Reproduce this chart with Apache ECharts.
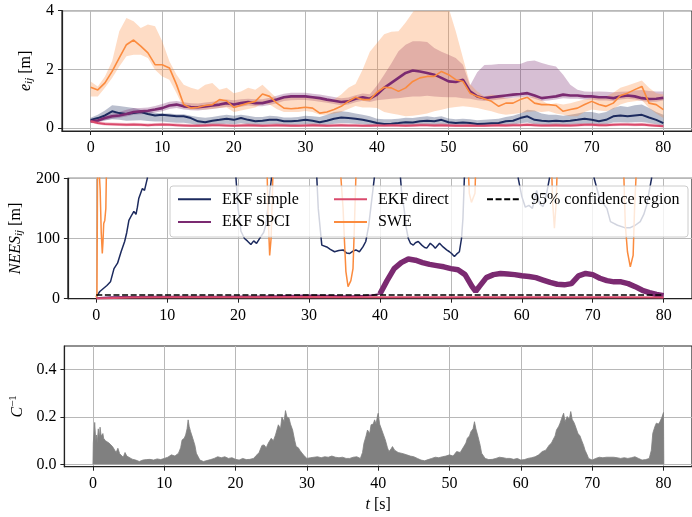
<!DOCTYPE html>
<html>
<head>
<meta charset="utf-8">
<script src="https://cdn.jsdelivr.net/npm/echarts@6/dist/echarts.min.js"></script>
<style>
  html, body { margin: 0; padding: 0; background: #ffffff; }
  #chart { width: 692px; height: 517px; }
</style>
</head>
<body>
<div id="chart"></div>
<script>
// ---------- sample times for the position-error panel [s] ----------
const errT = [0,1,2,3,4,5,6,7,8,9,10,11,12,13,14,15,16,17,18,19,20,21,22,23,24,25,26,27,28,29,30,
  31,32,33,34,35,36,37,38,39,40,41,42,43,44,45,46,47,48,49,50,51,52,53,54,55,56,57,58,59,60,
  61,62,63,64,65,66,67,68,69,70,71,72,73,74,75,76,77,78,79,80];

// ---------- e_ij [m]: mean error and min/max envelope per estimator ----------
const simpleErr = [0.28,0.34,0.43,0.57,0.51,0.48,0.51,0.55,0.48,0.43,0.45,0.43,0.40,0.40,0.34,0.23,0.20,0.25,0.28,0.32,
  0.28,0.34,0.28,0.23,0.25,0.28,0.28,0.23,0.23,0.25,0.28,0.25,0.20,0.25,0.32,0.36,0.34,0.32,0.28,0.23,
  0.17,0.14,0.15,0.17,0.20,0.19,0.23,0.25,0.23,0.28,0.20,0.17,0.19,0.17,0.14,0.15,0.16,0.17,0.23,0.25,
  0.34,0.40,0.28,0.25,0.23,0.25,0.23,0.25,0.28,0.32,0.28,0.23,0.28,0.40,0.43,0.40,0.43,0.45,0.36,0.28,0.17];
const simpleHi = [0.35,0.45,0.60,0.78,0.75,0.72,0.68,0.62,0.58,0.52,0.50,0.50,0.47,0.47,0.42,0.38,0.35,0.38,0.42,0.45,
  0.42,0.45,0.42,0.38,0.38,0.42,0.40,0.36,0.36,0.38,0.42,0.40,0.38,0.45,0.55,0.57,0.55,0.50,0.45,0.40,
  0.32,0.30,0.30,0.32,0.35,0.34,0.38,0.40,0.37,0.40,0.33,0.30,0.32,0.30,0.27,0.28,0.30,0.32,0.38,0.42,
  0.50,0.62,0.60,0.50,0.45,0.45,0.42,0.45,0.50,0.55,0.55,0.50,0.55,0.68,0.75,0.72,0.78,0.80,0.68,0.55,0.45];
const simpleLo = [0.20,0.22,0.26,0.30,0.28,0.25,0.26,0.27,0.24,0.22,0.22,0.20,0.18,0.18,0.15,0.10,0.09,0.11,0.13,0.15,
  0.13,0.16,0.13,0.10,0.11,0.13,0.13,0.10,0.10,0.11,0.13,0.11,0.09,0.11,0.15,0.17,0.16,0.15,0.13,0.10,
  0.07,0.06,0.06,0.07,0.09,0.08,0.10,0.11,0.10,0.13,0.09,0.07,0.08,0.07,0.06,0.06,0.07,0.07,0.10,0.11,
  0.16,0.19,0.13,0.11,0.10,0.11,0.10,0.11,0.13,0.15,0.13,0.10,0.13,0.19,0.20,0.19,0.20,0.21,0.17,0.13,0.07];

const spciErr = [0.23,0.26,0.34,0.40,0.43,0.48,0.55,0.57,0.59,0.63,0.68,0.77,0.80,0.74,0.72,0.71,0.74,0.77,0.80,0.85,
  0.80,0.85,0.89,0.85,0.85,0.91,0.97,1.05,1.08,1.08,1.08,1.05,1.02,0.97,0.93,0.89,0.91,1.00,1.05,1.00,
  1.14,1.37,1.54,1.71,1.88,1.96,1.93,1.88,1.82,1.71,1.59,1.57,1.65,1.25,1.08,1.02,1.05,1.08,1.11,1.14,
  1.16,1.19,1.11,1.02,1.05,1.08,1.14,1.11,1.11,1.08,1.08,1.05,1.05,1.02,1.08,1.11,1.08,1.02,0.99,1.00,1.03];
const spciHi = [0.30,0.33,0.42,0.50,0.55,0.62,0.68,0.68,0.70,0.75,0.82,0.90,0.92,0.88,0.85,0.84,0.87,0.90,0.93,0.97,
  0.95,0.98,1.00,0.98,0.98,1.03,1.10,1.17,1.20,1.20,1.20,1.17,1.14,1.10,1.06,1.02,1.04,1.12,1.18,1.15,
  1.45,1.82,2.20,2.62,2.84,2.96,2.96,2.93,2.73,2.60,2.50,2.39,2.16,1.45,1.90,2.15,2.16,2.18,2.18,2.18,
  2.18,2.28,2.30,2.22,2.15,2.10,1.82,1.48,1.31,1.25,1.24,1.25,1.24,1.22,1.24,1.25,1.28,1.30,1.26,1.25,1.25];
const spciLo = [0.18,0.20,0.27,0.32,0.35,0.39,0.45,0.47,0.49,0.53,0.57,0.65,0.68,0.63,0.61,0.60,0.62,0.65,0.68,0.73,
  0.69,0.73,0.77,0.74,0.74,0.79,0.85,0.92,0.95,0.96,0.96,0.93,0.90,0.86,0.82,0.78,0.80,0.88,0.93,0.89,
  0.95,0.97,1.00,1.02,1.05,1.08,1.08,1.10,1.08,1.06,1.05,1.05,1.02,1.00,0.95,0.92,0.94,0.97,1.00,1.03,
  1.05,1.08,1.00,0.92,0.94,0.97,1.02,1.00,1.00,0.97,0.97,0.94,0.94,0.92,0.97,1.00,0.97,0.92,0.89,0.90,0.94];

const directErr = [0.23,0.17,0.14,0.13,0.12,0.11,0.12,0.11,0.10,0.11,0.12,0.11,0.10,0.09,0.08,0.08,0.09,0.10,0.10,0.09,
  0.08,0.09,0.10,0.09,0.08,0.09,0.10,0.09,0.08,0.08,0.09,0.10,0.09,0.08,0.09,0.10,0.09,0.09,0.08,0.08,
  0.09,0.09,0.10,0.09,0.08,0.09,0.10,0.10,0.09,0.10,0.09,0.08,0.08,0.09,0.08,0.08,0.09,0.10,0.09,0.10,
  0.10,0.11,0.10,0.09,0.09,0.10,0.09,0.09,0.10,0.11,0.11,0.10,0.10,0.11,0.12,0.12,0.11,0.12,0.10,0.08,0.06];
const directHi = [0.28,0.24,0.21,0.19,0.18,0.17,0.18,0.17,0.16,0.17,0.18,0.17,0.16,0.15,0.14,0.14,0.15,0.16,0.16,0.15,
  0.14,0.15,0.16,0.15,0.14,0.15,0.16,0.15,0.14,0.14,0.15,0.16,0.15,0.14,0.15,0.16,0.15,0.15,0.14,0.14,
  0.15,0.15,0.16,0.15,0.14,0.15,0.16,0.16,0.15,0.16,0.15,0.14,0.14,0.15,0.14,0.14,0.15,0.16,0.15,0.16,
  0.16,0.17,0.16,0.15,0.15,0.16,0.15,0.15,0.16,0.17,0.17,0.16,0.16,0.17,0.18,0.18,0.17,0.18,0.16,0.14,0.11];
const directLo = [0.18,0.12,0.09,0.08,0.07,0.06,0.07,0.06,0.05,0.06,0.07,0.06,0.05,0.04,0.04,0.04,0.04,0.05,0.05,0.04,
  0.04,0.04,0.05,0.04,0.04,0.04,0.05,0.04,0.04,0.04,0.04,0.05,0.04,0.04,0.04,0.05,0.04,0.04,0.04,0.04,
  0.04,0.04,0.05,0.04,0.04,0.04,0.05,0.05,0.04,0.05,0.04,0.04,0.04,0.04,0.04,0.04,0.04,0.05,0.04,0.05,
  0.05,0.06,0.05,0.04,0.04,0.05,0.04,0.04,0.05,0.06,0.06,0.05,0.05,0.06,0.07,0.07,0.06,0.07,0.05,0.04,0.03];

const sweErr = [1.39,1.30,1.54,1.93,2.39,2.84,3.00,2.79,2.56,2.16,2.16,2.05,1.48,0.80,0.68,0.71,0.77,0.80,0.97,0.93,
  0.70,0.78,0.85,0.91,1.16,1.08,0.85,0.68,0.66,0.68,0.71,0.68,0.51,0.55,0.63,0.74,0.91,1.05,0.97,0.97,
  1.22,1.39,1.37,1.25,1.37,1.59,1.71,1.76,1.76,1.93,1.82,1.65,1.59,1.19,1.08,1.00,0.91,0.74,0.85,0.85,
  0.97,1.05,0.85,0.80,0.80,0.77,0.57,0.63,0.68,0.80,0.91,0.80,0.74,0.85,1.11,1.19,1.31,1.42,0.85,0.80,0.63];
const sweHi = [1.59,1.42,1.76,2.28,3.30,3.75,3.64,3.41,3.53,3.47,2.96,2.28,1.82,1.48,1.37,1.31,1.48,1.54,1.31,1.37,
  1.19,1.25,1.37,1.31,1.48,1.25,1.02,1.02,1.08,1.11,1.08,1.05,0.97,0.95,0.97,1.14,1.37,1.50,2.00,2.60,
  2.90,3.20,3.28,3.30,3.60,3.95,4.30,4.30,4.30,4.30,4.10,3.30,2.40,1.50,1.25,1.08,1.14,1.10,1.02,1.02,
  1.05,1.05,1.08,0.95,0.80,0.85,0.80,0.85,0.91,0.97,1.02,1.05,1.08,1.20,1.37,1.45,1.54,1.62,1.37,1.19,1.14];
const sweLo = [1.08,1.08,1.37,1.71,2.10,2.45,2.50,2.50,2.39,1.99,1.76,1.65,1.19,0.68,0.63,0.63,0.63,0.66,0.68,0.70,
  0.55,0.60,0.65,0.70,0.85,0.80,0.65,0.55,0.55,0.55,0.58,0.55,0.45,0.45,0.50,0.55,0.65,0.75,0.70,0.70,
  0.68,0.55,0.50,0.45,0.40,0.42,0.45,0.50,0.57,0.62,0.68,0.72,0.74,0.72,0.68,0.62,0.57,0.50,0.45,0.48,
  0.51,0.55,0.57,0.55,0.57,0.50,0.45,0.40,0.40,0.55,0.63,0.60,0.57,0.65,0.80,0.88,0.91,0.95,0.68,0.50,0.34];

// ---------- NEES_ij: (time, value) pairs, values above 200 leave the view ----------
const neesSimpleT = [0,0.5,1,1.5,2,2.5,3,3.5,4,4.3,4.6,5,5.3,5.6,5.8,6,6.5,6.8,7.2,7.5,
  19.5,19.7,20.0,20.4,20.9,21.3,21.8,22.2,22.6,23.2,23.6,23.9,24.3,24.7,25.0,
  30.9,31.1,31.3,31.8,32.5,33.0,33.6,34.2,34.8,35.3,35.7,36.2,36.6,37.1,37.6,38.0,38.4,38.7,39.0,39.2,39.5,
  42.7,42.9,43.1,43.4,43.7,44.0,44.3,44.7,45.0,45.4,45.9,46.3,46.6,47.1,47.5,47.8,48.1,48.4,48.9,49.4,49.8,50.1,50.5,50.8,51.2,51.5,51.7,51.9,52.1,
  59.3,59.5,60.0,60.5,61.0,61.5,62.1,62.5,63.0,63.5,63.9,64.1,
  69.9,70.2,71.0,72.0,72.5,73.5,74.5,75.3,76.0,76.7,77.2,77.6,78.3,78.6,80];
const neesSimpleV = [3,12,17,22,28,50,59,78,95,110,130,139,145,140,152,167,183,180,200,260,
  260,200,150,112,100,96,90,96,92,103,110,122,161,200,260,
  260,200,150,89,86,82,78,80,81,76,75,79,81,78,86,95,120,150,180,200,260,
  260,200,170,150,118,100,92,89,93,95,89,85,84,92,88,84,88,92,86,81,78,75,70,74,78,100,133,200,260,
  260,200,170,152,155,150,180,158,153,175,200,260,
  260,200,165,150,128,122,118,118,122,128,140,155,200,260,260];

const neesSpciEarlyT = [0,2,4,6,8,10,12,14,16,18,20,22,24,26,28,30,32,34,36,38,39,40];
const neesSpciEarlyV = [1,2.5,3,3,3.2,3.2,3.5,3.3,3.5,3.6,3.8,4,4.2,4.5,5.2,5.5,5,4.5,4.2,5,6,8];
const neesSpciLateT = [40,41,42,43,44,45,46,47,48,49,50,51,52,53,53.5,54,55,56,57,58,59,60,
  61,62,63,64,65,66,67,68,69,70,71,72,73,74,75,76,77,78,79,80];
const neesSpciLateV = [8,30,50,60,66,64,60,57,55,53,50,48,40,20,12,20,35,40,42,41,40,38,
  37,35,31,27,24,23,25,38,42,40,34,30,28,28,25,20,14,10,7,5];

const neesDirectT = [0,5,10,15,20,25,30,35,40,45,50,55,60,65,70,75,80];
const neesDirectV = [0.5,2.2,2.5,2.4,2.5,2.6,2.8,2.6,2.5,2.4,2.5,2.4,2.5,2.5,2.6,2.4,2.2];

const neesSweT = [0,0.1,0.2,0.45,0.55,0.7,0.85,0.95,1.05,1.2,1.35,1.5,
  24.0,24.2,24.45,24.65,24.85,25.0,
  34.3,34.5,34.8,35.0,35.2,35.5,35.7,35.9,36.2,36.4,36.6,36.8,
  52.3,52.6,52.9,53.1,53.4,53.6,
  64.1,64.35,64.6,64.85,65.1,
  74.1,74.4,74.6,74.9,75.3,75.7,75.9,76.1,76.3,80];
const neesSweV = [2,8,260,260,180,110,75,95,125,130,150,260,
  260,150,72,100,180,260,
  260,200,150,95,45,20,17,30,50,122,200,260,
  260,175,160,158,175,260,
  260,160,117,160,260,
  260,200,122,78,53,72,150,200,260,260];

const confT = [0, 80];
const confV = [5.99, 5.99];

// ---------- C^-1: upper envelope of the signal ----------
const cInvT = [0,0.05,0.25,0.4,0.5,0.6,0.75,0.9,1.0,1.15,1.25,1.4,1.5,1.75,2.0,2.25,2.5,2.75,3.0,3.25,3.5,3.75,4.0,4.25,4.5,4.75,5.0,5.5,6.0,6.5,7,7.5,8,8.5,9,9.5,10,10.5,11,11.5,12,12.3,12.5,12.8,13,13.2,13.35,13.5,13.7,14,14.3,14.5,15,15.5,16,16.5,17,17.5,18,18.5,19,19.5,20,20.5,21,21.5,22,22.5,23,23.3,23.7,24,24.3,24.6,25,25.3,25.6,26,26.3,26.5,26.8,27,27.2,27.5,27.7,28,28.3,28.5,28.8,29,29.5,30,30.5,31,31.5,32,32.5,33,33.5,34,34.5,35,35.5,36,36.5,37,37.5,37.8,38,38.3,38.5,38.8,39,39.3,39.5,39.7,39.9,40,40.2,40.5,40.8,41,41.3,41.5,41.8,42,42.3,42.5,42.8,43,43.5,44,44.5,45,45.5,46,46.5,47,47.5,48,48.5,49,49.5,50,50.5,51,51.5,52,52.3,52.5,52.8,53,53.3,53.5,53.7,54,54.3,54.5,55,55.5,56,56.5,57,57.5,58,58.5,59,59.5,60,60.5,61,61.5,62,62.5,63,63.5,64,64.3,64.5,64.8,65,65.3,65.5,65.8,66,66.2,66.5,66.8,67,67.2,67.5,67.7,68,68.3,68.5,68.8,69,69.3,69.5,70,70.5,71,71.5,72,72.5,73,73.5,74,74.5,75,75.5,76,76.5,77,77.5,78,78.3,78.5,78.8,79,79.3,79.5,79.8,80,80.05];
const cInvV = [0,0.09,0.177,0.10,0.124,0.09,0.15,0.11,0.157,0.12,0.117,0.13,0.11,0.10,0.103,0.09,0.096,0.075,0.068,0.05,0.068,0.045,0.04,0.03,0.05,0.035,0.032,0.022,0.018,0.012,0.018,0.02,0.021,0.018,0.023,0.02,0.025,0.03,0.04,0.035,0.047,0.07,0.103,0.11,0.124,0.15,0.188,0.16,0.138,0.11,0.08,0.047,0.018,0.012,0.016,0.02,0.025,0.032,0.028,0.032,0.025,0.028,0.021,0.018,0.025,0.02,0.021,0.025,0.04,0.05,0.08,0.082,0.07,0.09,0.11,0.10,0.124,0.167,0.15,0.20,0.18,0.227,0.20,0.195,0.17,0.145,0.10,0.075,0.07,0.06,0.04,0.025,0.028,0.03,0.032,0.028,0.032,0.03,0.035,0.03,0.028,0.03,0.025,0.025,0.03,0.032,0.025,0.05,0.089,0.12,0.145,0.13,0.167,0.17,0.188,0.17,0.205,0.216,0.17,0.145,0.12,0.103,0.07,0.054,0.065,0.075,0.06,0.068,0.05,0.054,0.045,0.04,0.035,0.032,0.025,0.018,0.015,0.02,0.025,0.03,0.028,0.032,0.035,0.04,0.035,0.054,0.05,0.075,0.09,0.11,0.12,0.138,0.15,0.18,0.15,0.117,0.08,0.047,0.025,0.02,0.021,0.025,0.03,0.028,0.025,0.025,0.021,0.025,0.018,0.02,0.025,0.028,0.032,0.04,0.054,0.06,0.082,0.09,0.103,0.12,0.145,0.16,0.174,0.20,0.216,0.18,0.202,0.19,0.223,0.19,0.174,0.18,0.131,0.12,0.103,0.08,0.06,0.04,0.025,0.018,0.025,0.03,0.028,0.03,0.03,0.03,0.028,0.025,0.028,0.025,0.028,0.032,0.025,0.018,0.02,0.025,0.06,0.131,0.16,0.174,0.17,0.18,0.20,0.219,0];

// ---------- tick positions ----------
const xTicks = [0, 10, 20, 30, 40, 50, 60, 70, 80];
const errTicks = [0, 2, 4];
const neesTicks = [0, 100, 200];
const cInvTicks = [0, 0.2, 0.4];

// ---------- styling ----------
const SERIF = 'Liberation Serif';
const NAVY = '#1c2a5e';
const PURPLE = '#7b2a71';
const RED = '#da4a6c';
const ORANGE = '#fb8b3e';
const GREY = '#808080';

const pairs = (t, v) => t.map((x, i) => [x, v[i]]);

const chart = echarts.init(document.getElementById('chart'), null, { renderer: 'canvas' });

const grids = [
  { left: 62, top: 10.7, width: 633, height: 120.3 },
  { left: 62, top: 178.3, width: 633, height: 120.4 },
  { left: 62, top: 346, width: 633, height: 120.7 }
].map(g => Object.assign(g, { show: true, borderColor: '#222', borderWidth: 1.2, backgroundColor: 'transparent', containLabel: false }));

function xAxisFor(gi, extra) {
  return Object.assign({
    type: 'value', gridIndex: gi, min: -4, max: 84,
    axisLine: { show: true, onZero: false, lineStyle: { color: '#222', width: 1.2 } },
    axisTick: { show: true, customValues: xTicks, length: 4, lineStyle: { color: '#222', width: 1 } },
    axisLabel: { customValues: xTicks, margin: 9, color: '#000', fontSize: 16, fontFamily: SERIF },
    splitLine: { show: true, lineStyle: { color: '#b8b8b8', width: 1 } }
  }, extra || {});
}

function yAxisFor(gi, min, max, ticks, fmt, name, gap) {
  return {
    type: 'value', gridIndex: gi, min: min, max: max,
    axisLine: { show: true, onZero: false, lineStyle: { color: '#222', width: 1.2 } },
    axisTick: { show: true, customValues: ticks, length: 4, lineStyle: { color: '#222', width: 1 } },
    axisLabel: { customValues: ticks, margin: 8, color: '#000', fontSize: 16, fontFamily: SERIF, formatter: fmt },
    splitLine: { show: true, lineStyle: { color: '#b8b8b8', width: 1 } },
    name: name, nameLocation: 'middle', nameGap: gap, nameRotate: 90,
    nameTextStyle: {
      color: '#000', fontFamily: SERIF, fontSize: 16,
      rich: {
        i: { fontFamily: SERIF, fontSize: 16, fontStyle: 'italic', color: '#000' },
        n: { fontFamily: SERIF, fontSize: 16, color: '#000' },
        s: { fontFamily: SERIF, fontSize: 11, fontStyle: 'italic', color: '#000', padding: [7, 0, 0, 0] },
        p: { fontFamily: SERIF, fontSize: 11, color: '#000', padding: [0, 0, 8, 0] }
      }
    }
  };
}

// shaded min/max envelope drawn as one polygon through the axis scales
function band(name, lo, hi, color) {
  const rows = errT.map((t, i) => [t, lo[i], hi[i]]);
  return {
    type: 'custom', name: name, xAxisIndex: 0, yAxisIndex: 0, z: 1, silent: true, clip: true,
    data: rows, encode: { x: 0, y: [1, 2] },
    renderItem: function (params, api) {
      if (params.dataIndex !== 0) return null;
      const upper = rows.map(r => api.coord([r[0], r[2]]));
      const lower = rows.map(r => api.coord([r[0], r[1]])).reverse();
      const cs = params.coordSys;
      return {
        type: 'polygon',
        shape: { points: upper.concat(lower) },
        style: { fill: color },
        clipPath: { type: 'rect', shape: { x: cs.x, y: cs.y, width: cs.width, height: cs.height } }
      };
    }
  };
}

function line(name, xi, data, color, width, extra) {
  return Object.assign({
    type: 'line', name: name, xAxisIndex: xi, yAxisIndex: xi, data: data,
    symbol: 'none', showSymbol: false, silent: true, animation: false, clip: true, z: 2,
    color: color, lineStyle: { color: color, width: width }
  }, extra || {});
}

// legend handles are plain line segments (the point marker is hidden)
const legendBase = {
  orient: 'vertical', top: 191.3, itemWidth: 33, itemHeight: 14, itemGap: 6.7, padding: 0,
  selectedMode: false, z: 10,
  lineStyle: { width: 2 },
  itemStyle: { opacity: 0, borderWidth: 0 },
  textStyle: { fontFamily: SERIF, fontSize: 16, color: '#000', lineHeight: 16, padding: [0, 0, 0, 6] }
};

const option = {
  animation: false,
  backgroundColor: '#ffffff',
  textStyle: { fontFamily: SERIF },
  grid: grids,
  xAxis: [
    xAxisFor(0),
    xAxisFor(1),
    xAxisFor(2, {
      name: '{i|t} {n|[s]}', nameLocation: 'middle', nameGap: 30,
      nameTextStyle: {
        color: '#000', fontFamily: SERIF, fontSize: 16,
        rich: {
          i: { fontFamily: SERIF, fontSize: 16, fontStyle: 'italic', color: '#000' },
          n: { fontFamily: SERIF, fontSize: 16, color: '#000' }
        }
      }
    })
  ],
  yAxis: [
    yAxisFor(0, -0.1, 4, errTicks, v => String(v), '{i|e}{s|ij} {n|[m]}', 20),
    yAxisFor(1, 0, 200, neesTicks, v => String(v), '{i|NEES}{s|ij} {n|[m]}', 40),
    yAxisFor(2, -0.01, 0.5, cInvTicks, v => v.toFixed(1), '{i|C}{p|−1}', 32)
  ],
  legend: [
    Object.assign({}, legendBase, { left: 177, data: ['EKF simple', 'EKF SPCI'] }),
    Object.assign({}, legendBase, { left: 333, data: ['EKF direct', 'SWE'] }),
    Object.assign({}, legendBase, { left: 486, data: ['95% confidence region'] })
  ],
  graphic: [{
    type: 'rect', z: 3, silent: true,
    shape: { x: 170, y: 186, width: 518, height: 51, r: 3 },
    style: { fill: 'rgba(255,255,255,0.8)', stroke: '#cccccc', lineWidth: 1 }
  }],
  series: [
    // NEES panel (first so the legend picks these styles)
    line('EKF simple', 1, pairs(neesSimpleT, neesSimpleV), NAVY, 1.5),
    line('EKF SPCI', 1, pairs(neesSpciEarlyT, neesSpciEarlyV), PURPLE, 1.8),
    line('EKF SPCI', 1, pairs(neesSpciLateT, neesSpciLateV), PURPLE, 5.5),
    line('EKF direct', 1, pairs(neesDirectT, neesDirectV), RED, 2),
    line('SWE', 1, pairs(neesSweT, neesSweV), ORANGE, 1.5),
    line('95% confidence region', 1, pairs(confT, confV), '#000', 1.5, {
      z: 3, lineStyle: { color: '#000', width: 1.5, type: [6, 2.6] }
    }),

    // error panel: envelopes, then mean errors
    band('simple envelope', simpleLo, simpleHi, 'rgba(28,42,94,0.3)'),
    band('spci envelope', spciLo, spciHi, 'rgba(123,42,113,0.3)'),
    band('direct envelope', directLo, directHi, 'rgba(218,74,108,0.3)'),
    band('swe envelope', sweLo, sweHi, 'rgba(251,139,62,0.3)'),
    line('simple error', 0, pairs(errT, simpleErr), NAVY, 2),
    line('spci error', 0, pairs(errT, spciErr), PURPLE, 2.6),
    line('direct error', 0, pairs(errT, directErr), RED, 2),
    line('swe error', 0, pairs(errT, sweErr), ORANGE, 1.6),

    // C^-1 panel
    line('cinv', 2, pairs(cInvT, cInvV), GREY, 0.8, {
      areaStyle: { color: GREY, opacity: 1 }
    })
  ]
};

chart.setOption(option);
</script>
</body>
</html>
